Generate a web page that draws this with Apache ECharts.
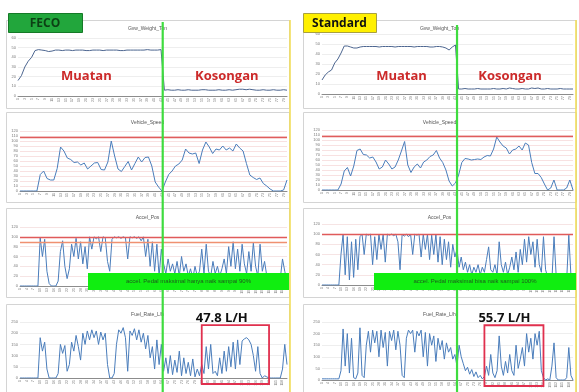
<!DOCTYPE html>
<html>
<head>
<meta charset="utf-8">
<script src="https://cdn.jsdelivr.net/npm/echarts@6/dist/echarts.min.js"></script>
<style>
  html, body { margin: 0; padding: 0; background: #ffffff; }
  #chart { width: 579px; height: 392px; }
</style>
</head>
<body>
<div id="chart"></div>
<script>
// ---- Logged signals: FECO run (left) vs Standard run (right) ----
const weightFeco = [
  16, 21, 30, 36, 40, 47,
  48, 47.5, 47, 46, 46.5, 47.5, 47.5, 47, 47.5, 47.5,
  47, 47.5, 47.5, 47.5, 47, 47, 47.5, 47.5, 47.5, 47,
  47.5, 47.5, 47.5, 47.5, 47, 47, 47.5, 47.5, 47.5, 47.5,
  47.5, 47.5, 48, 47.5, 47.5, 47.5, 48,
  6, 6.5, 6, 6, 6.5, 6, 6, 6.5, 6, 6,
  6, 6.5, 6.5, 6, 6, 6, 6.5, 6, 6, 6.5,
  6, 6.5, 7, 7, 6.5, 7, 6.5, 6, 6, 6.5,
  6, 6, 6.5, 6, 6, 6.5, 6
];
const weightStd = [
  14, 19, 22, 24, 31, 35, 41,
  48, 48, 47, 46, 46, 47, 47.5, 47.5, 47.5, 47.5,
  47.5, 47, 47.5, 47.5, 47.5, 47.5, 47, 47.5, 47.5, 47.5,
  47.5, 47.5, 47, 47.5, 47.5, 47.5, 47.5, 47, 47, 47.5,
  47.5, 47, 46, 44, 47, 49,
  5, 5, 5.5, 5, 5, 5, 5.5, 5, 5, 5,
  5, 5.5, 5, 5, 5.5, 5, 6, 5.5, 5, 5,
  5.5, 5, 5, 6, 5.5, 6, 5, 5, 5.5, 5,
  5, 5, 5.5, 5, 5, 5, 5
];
const speedFeco = [
  0, 0, 0, 0, 0, 0, 33, 40, 25, 22,
  22, 45, 88, 80, 66, 63, 57, 58, 52, 56,
  44, 50, 56, 57, 43, 42, 58, 100, 70, 44,
  39, 49, 59, 42, 55, 68, 58, 67, 68, 50,
  18, 8, 0, 18, 33, 40, 50, 54, 62, 84,
  76, 74, 76, 55, 82, 98, 88, 75, 84, 82,
  90, 82, 86, 80, 94, 86, 80, 55, 32, 27,
  23, 26, 15, 10, 4, 0, 0, 0, 2, 22
];
const speedStd = [
  0, 0, 0, 0, 0, 0, 12, 38, 45, 28,
  48, 79, 82, 71, 70, 64, 66, 56, 42, 46,
  60, 52, 42, 46, 60, 78, 97, 50, 35, 46,
  52, 44, 56, 60, 67, 70, 79, 64, 55, 40,
  18, 8, 14, 30, 55, 63, 62, 60, 61, 62,
  61, 66, 69, 68, 82, 106, 96, 88, 84, 72,
  80, 82, 88, 80, 94, 90, 55, 33, 33, 25,
  12, 0, 4, 20, 0, 0, 0, 4, 20, 0
];
const accelFeco = [
  0, 0, 0, 0, 0, 0, 0, 0, 0, 98,
  60, 95, 30, 5, 0, 0, 0, 10, 70, 92,
  40, 15, 35, 85, 60, 97, 55, 90, 45, 80,
  35, 100, 75, 100, 96, 100, 70, 100, 98, 50,
  30, 95, 100, 98, 100, 97, 100, 98, 55, 100,
  98, 100, 97, 100, 92, 100, 60, 95, 40, 90,
  30, 85, 20, 75, 45, 25, 55, 30, 45, 25,
  50, 20, 60, 30, 45, 20, 35, 15, 40, 20,
  30, 75, 25, 85, 30, 20, 50, 25, 40, 20,
  35, 55, 25, 80, 40, 90, 35, 75, 30, 85,
  45, 25, 70, 30, 88, 40, 20, 85, 30, 50,
  20, 15, 25, 10, 20, 5, 15, 55, 30, 10
];
const accelStd = [
  0, 0, 0, 0, 0, 0, 0, 0, 0, 60,
  100, 20, 95, 10, 85, 15, 90, 30, 95, 100,
  60, 100, 98, 100, 40, 95, 50, 100, 70, 100,
  45, 100, 98, 100, 97, 100, 85, 30, 100, 96,
  100, 95, 100, 60, 100, 98, 100, 55, 100, 70,
  100, 50, 98, 60, 100, 45, 95, 40, 90, 50,
  85, 35, 80, 55, 70, 35, 55, 30, 45, 25,
  40, 20, 35, 25, 40, 20, 35, 25, 50, 75,
  30, 25, 40, 20, 85, 40, 25, 45, 20, 35,
  55, 30, 65, 25, 70, 40, 90, 45, 95, 60,
  85, 35, 90, 40, 25, 95, 30, 15, 20, 10,
  95, 20, 5, 10, 5, 15, 10, 98, 20, 5
];
const fuelFeco = [
  0, 0, 0, 0, 0, 0, 0, 0, 0, 180,
  120, 160, 40, 0, 0, 0, 0, 20, 150, 110,
  145, 30, 60, 160, 120, 190, 140, 80, 200, 150,
  210, 170, 215, 180, 210, 150, 205, 170, 200, 60,
  0, 0, 20, 150, 215, 200, 225, 180, 30, 210,
  190, 220, 170, 215, 160, 200, 130, 190, 90, 140,
  40, 170, 60, 150, 30, 90, 20, 100, 15, 80,
  25, 120, 10, 90, 20, 70, 10, 85, 5, 40,
  10, 60, 20, 140, 40, 150, 20, 30, 10, 90,
  20, 120, 30, 140, 50, 160, 40, 170, 60, 165,
  175, 180, 170, 150, 100, 30, 140, 20, 0, 10,
  5, 0, 0, 0, 0, 0, 0, 40, 150, 60
];
const fuelStd = [
  5, 5, 5, 5, 5, 5, 5, 5, 5, 40,
  220, 60, 200, 30, 180, 10, 5, 30, 225, 20,
  10, 150, 210, 120, 215, 160, 210, 100, 215, 140,
  205, 60, 210, 170, 215, 130, 210, 150, 20, 10,
  180, 215, 200, 215, 120, 210, 190, 215, 100, 205,
  60, 200, 150, 190, 80, 180, 130, 170, 90, 160,
  120, 140, 90, 110, 60, 150, 100, 70, 40, 55,
  25, 45, 15, 35, 10, 20, 5, 15, 60, 20,
  110, 30, 10, 40, 190, 60, 20, 80, 30, 110,
  40, 20, 150, 50, 90, 140, 60, 200, 120, 180,
  90, 200, 150, 210, 40, 10, 0, 5, 0, 60,
  160, 10, 0, 0, 0, 0, 10, 140, 20, 0
];

// sample numbers along the time axis
const samples80 = Array.from({ length: 80 }, (_, i) => String(i + 1));
const samples120 = Array.from({ length: 120 }, (_, i) => String(i + 1));

const panelTitles = ['Gvw_Weight_Ton', 'Vehicle_Speed', 'Accel_Pos', 'Fuel_Rate_L/h'];
const runNames = ['FECO', 'Standard'];
const phaseNames = ['Muatan', 'Kosongan'];
const avgFuelText = ['47.8 L/H', '55.7 L/H'];
const pedalNotes = ['accel. Pedal maksimal hanya naik sampai 90%', 'accel. Pedal maksimal bisa naik sampai 100%'];
const speedLimit = 107;
const pedalFull = 100;
const pedalCapFeco = 89;
const loadedEnd = [42, 42];          // last loaded sample index per run
const boxRange = [[81, 111], [77, 105]]; // fuel samples framed per run

const LINE = '#4a7dbb';
const WLINE = '#4d6690';
const FONT = 'Liberation Sans';

const chart = echarts.init(document.getElementById('chart'), null, { renderer: 'canvas' });

const grids = [
  { left: 18, top: 38, width: 269, height: 58 },
  { left: 20, top: 131, width: 267, height: 60 },
  { left: 20, top: 227, width: 267, height: 59 },
  { left: 20, top: 322, width: 267, height: 56 },
  { left: 322, top: 34, width: 251, height: 60 },
  { left: 322, top: 130, width: 251, height: 60 },
  { left: 322, top: 224, width: 251, height: 61 },
  { left: 322, top: 322, width: 251, height: 58 }
];

function xAx(idx, cats, every) {
  return {
    type: 'category', gridIndex: idx, data: cats, boundaryGap: false,
    axisLine: { lineStyle: { color: '#8c8c8c', width: 1 } },
    axisTick: { show: false },
    axisLabel: { fontSize: 3.5, rotate: 90, color: '#7a7a7a', interval: every, margin: 2, fontFamily: FONT },
    splitLine: { show: false }
  };
}
function yAx(idx, max, step, gridColor) {
  return {
    type: 'value', gridIndex: idx, min: 0, max: max, interval: step,
    axisLine: { show: false }, axisTick: { show: false },
    axisLabel: { fontSize: 4, color: '#7a7a7a', margin: 2, fontFamily: FONT },
    splitLine: { lineStyle: { color: gridColor, width: 0.6 } }
  };
}
function refLines(values) {
  return {
    silent: true, symbol: 'none', label: { show: false }, animation: false,
    lineStyle: { color: values[0][1], width: 1.3, type: 'solid' },
    data: values.map(v => ({ yAxis: v[0], lineStyle: { color: v[1], width: 1.3, type: 'solid' } }))
  };
}
function line(idx, data, color, width, extra) {
  return Object.assign({
    type: 'line', xAxisIndex: idx, yAxisIndex: idx, data: data,
    symbol: 'none', showSymbol: false, silent: true, animation: false,
    lineStyle: { color: color, width: width }, itemStyle: { color: color }
  }, extra || {});
}

const xAxes = [
  xAx(0, samples80, 1), xAx(1, samples80, 1), xAx(2, samples120, 2), xAx(3, samples120, 2),
  xAx(4, samples80, 1), xAx(5, samples80, 1), xAx(6, samples120, 2), xAx(7, samples120, 2)
];
const yAxes = [
  yAx(0, 60, 10, '#e2e2e2'), yAx(1, 120, 10, '#f3cccc'), yAx(2, 120, 20, '#f0d2d2'), yAx(3, 250, 50, '#e2e2e2'),
  yAx(4, 60, 10, '#e2e2e2'), yAx(5, 120, 10, '#f3cccc'), yAx(6, 120, 20, '#f0d2d2'), yAx(7, 250, 50, '#e2e2e2')
];

const series = [
  line(0, weightFeco, WLINE, 1),
  line(1, speedFeco, LINE, 1, { markLine: refLines([[speedLimit, '#e05c5c']]) }),
  line(2, accelFeco, LINE, 1, { markLine: refLines([[pedalFull, '#e05a5a'], [pedalCapFeco, '#f09070']]) }),
  line(3, fuelFeco, LINE, 1),
  line(4, weightStd, WLINE, 1),
  line(5, speedStd, LINE, 1, { markLine: refLines([[speedLimit, '#e05c5c']]) }),
  line(6, accelStd, LINE, 1, { markLine: refLines([[pedalFull, '#e05a5a']]) }),
  line(7, fuelStd, LINE, 1)
];

// panel frames and titles
const panelsY = [[20, 88], [112, 90], [208, 89], [304, 88]];
const titlesY = [29, 123, 218, 315];
const staticGraphics = [];
[[6, 283], [303, 273]].forEach((col, c) => {
  panelsY.forEach((p, r) => {
    staticGraphics.push({
      type: 'rect', z: -10, silent: true,
      shape: { x: col[0] + 0.5, y: p[0] + 0.5, width: col[1], height: p[1] },
      style: { fill: '#ffffff', stroke: '#d4d4d4', lineWidth: 1 }
    });
    staticGraphics.push({
      type: 'text', z: 5, silent: true,
      style: { text: panelTitles[r], x: col[0] + col[1] / 2, y: titlesY[r], align: 'center', verticalAlign: 'middle',
               fill: '#555', font: '5px ' + FONT }
    });
  });
});

chart.setOption({
  backgroundColor: '#ffffff',
  animation: false,
  grid: grids,
  xAxis: xAxes,
  yAxis: yAxes,
  series: series,
  graphic: staticGraphics
});

// overlays placed from the axes
function px(idx, i, v) {
  return chart.convertToPixel({ xAxisIndex: idx, yAxisIndex: idx }, [i, v]);
}
const overlay = [];
const runs = [
  { w: 0, f: 3, yellowX: 290, headFill: '#22a63c', headStroke: '#157a27', headText: '#0c3f14', headX: 8, headW: 74, noteX: 88, noteW: 201 },
  { w: 4, f: 7, yellowX: 576, headFill: '#fff000', headStroke: '#a8a040', headText: '#111111', headX: 303, headW: 73, noteX: 374, noteW: 202 }
];
runs.forEach((r, c) => {
  const a = px(r.w, loadedEnd[c], 0);
  const b = px(r.w, loadedEnd[c] + 1, 0);
  const gx = (a[0] + b[0]) / 2;
  const gridL = grids[r.w].left, gridR = grids[r.w].left + grids[r.w].width;

  // yellow edge line
  overlay.push({ type: 'line', z: 20, silent: true, shape: { x1: r.yellowX, y1: 20, x2: r.yellowX, y2: 392 },
    style: { stroke: '#f2dd5a', lineWidth: 1.6 } });
  // loaded / empty boundary
  overlay.push({ type: 'line', z: 30, silent: true, shape: { x1: gx, y1: c === 0 ? 22 : 25, x2: gx, y2: 392 },
    style: { stroke: '#3fdc3f', lineWidth: 2.2 } });

  // phase names
  overlay.push({ type: 'text', z: 25, silent: true,
    style: { text: phaseNames[0], x: (gridL + gx) / 2 + (c === 0 ? -4 : 12), y: 76, align: 'center', verticalAlign: 'middle',
             fill: '#cc2a2a', font: 'bold 13px "Open Sans"' } });
  overlay.push({ type: 'text', z: 25, silent: true,
    style: { text: phaseNames[1], x: (gx + gridR) / 2 + (c === 0 ? 2 : -5), y: 76, align: 'center', verticalAlign: 'middle',
             fill: '#cc2a2a', font: 'bold 13px "Open Sans"' } });

  // run header
  overlay.push({ type: 'rect', z: 40, silent: true,
    shape: { x: r.headX + 0.5, y: 13.5, width: r.headW, height: 19 },
    style: { fill: r.headFill, stroke: r.headStroke, lineWidth: 1 } });
  overlay.push({ type: 'text', z: 41, silent: true,
    style: { text: runNames[c], x: r.headX + r.headW / 2, y: 23.5, align: 'center', verticalAlign: 'middle',
             fill: r.headText, font: 'bold 12px "Open Sans"' } });

  // pedal note
  overlay.push({ type: 'rect', z: 40, silent: true,
    shape: { x: r.noteX, y: 273, width: r.noteW, height: 17 },
    style: { fill: '#10ee10' } });
  overlay.push({ type: 'text', z: 41, silent: true,
    style: { text: pedalNotes[c], x: r.noteX + r.noteW / 2, y: 281.5, align: 'center', verticalAlign: 'middle',
             fill: '#1d5a1d', font: '6px ' + FONT } });

  // fuel window frame and its average
  const p0 = px(r.f, boxRange[c][0], 236);
  const p1 = px(r.f, boxRange[c][1], 0);
  overlay.push({ type: 'rect', z: 35, silent: true,
    shape: { x: p0[0], y: p0[1], width: p1[0] - p0[0], height: p1[1] - p0[1] + 6 },
    style: { fill: 'none', stroke: '#e0304e', lineWidth: 1.8 } });
  overlay.push({ type: 'text', z: 41, silent: true,
    style: { text: avgFuelText[c], x: p0[0] - 6, y: p0[1] - 7, align: 'left', verticalAlign: 'middle',
             fill: '#111111', font: 'bold 13px "Open Sans"' } });
});

chart.setOption({ graphic: staticGraphics.concat(overlay) });
</script>
</body>
</html>
